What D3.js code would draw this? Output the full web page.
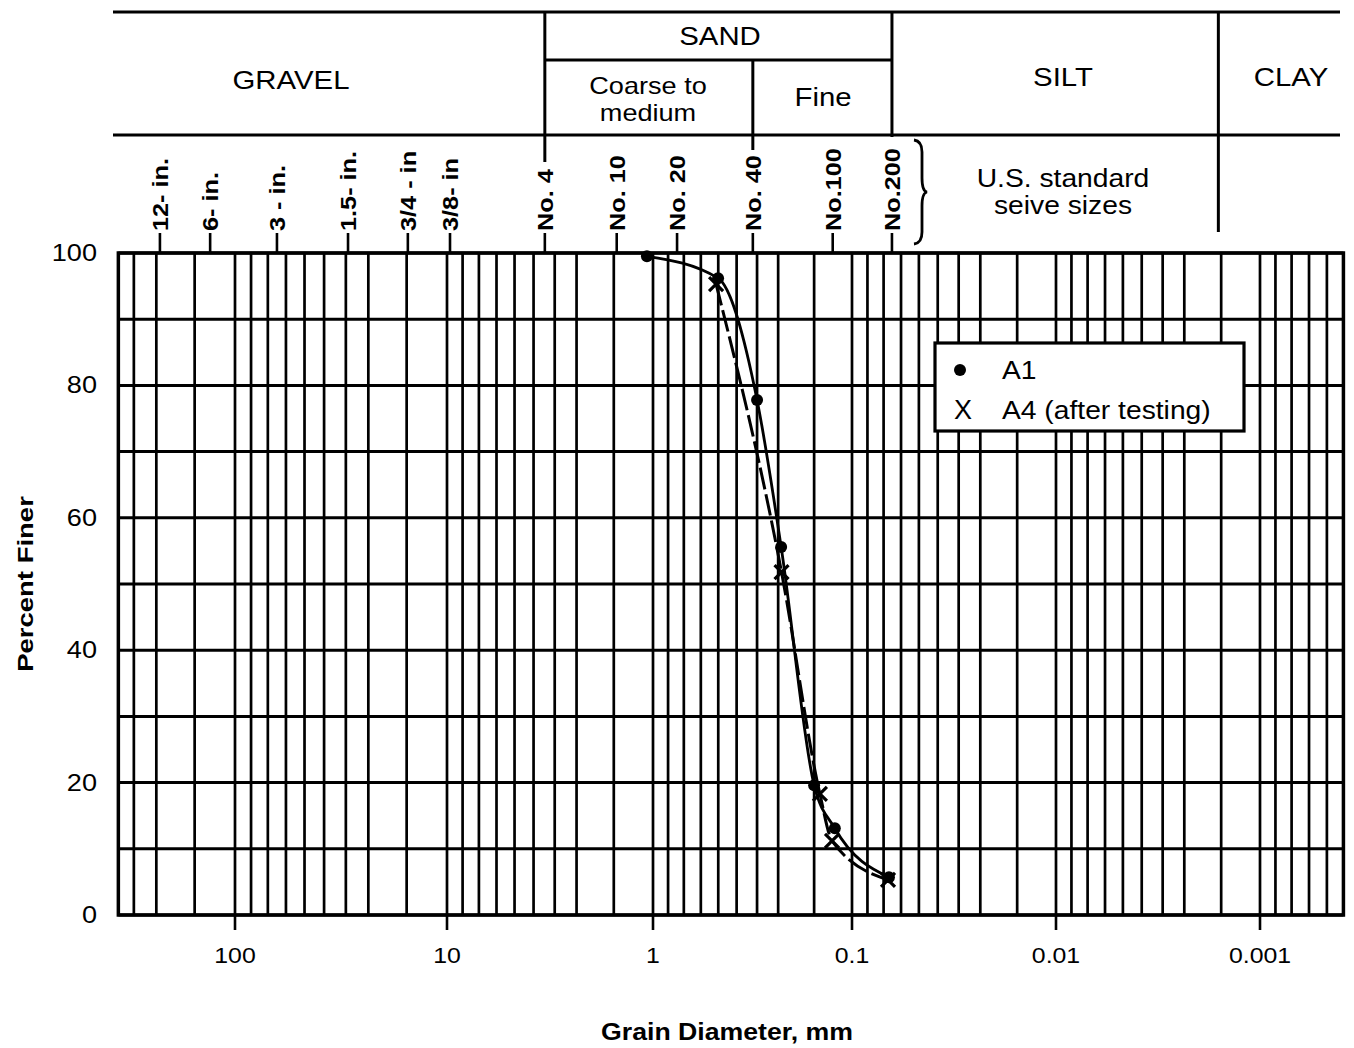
<!DOCTYPE html>
<html>
<head>
<meta charset="utf-8">
<script src="https://cdn.jsdelivr.net/npm/d3@7"></script>
<style>
  body { margin: 0; background: #fff; }
  text { font-family: "Liberation Sans", Arial, Helvetica, sans-serif; fill: #000; }
</style>
</head>
<body>
<svg id="chart" width="1354" height="1048"></svg>
<script>
// ---- data -------------------------------------------------------------
// Decade ticks on the grain-diameter axis (mm) and their labels
const decadeTicks = [100, 10, 1, 0.1, 0.01, 0.001];
const decadeLabels = ["100", "10", "1", "0.1", "0.01", "0.001"];
// Rulings of the chart paper inside each decade (multiples of the lower decade value)
const gridMantissas = [8.4, 7.0, 5.75, 4.7, 3.8, 3.0, 2.35, 1.55];
// Percent-finer axis
const percentTicks = [0, 20, 40, 60, 80, 100];
const percentGrid = [0, 10, 20, 30, 40, 50, 60, 70, 80, 90, 100];
// Sieve designations across the top and where they sit on the diameter axis (mm)
const sieveNames = ["12- in.", "6- in.", "3 - in.", "1.5- in.", "3/4 - in", "3/8- in",
                    "No. 4", "No. 10", "No. 20", "No. 40", "No.100", "No.200"];
const sieveSizes = [226, 131, 63.4, 29.3, 15.3, 9.67, 3.35, 1.50, 0.757, 0.315, 0.125, 0.0637];
// Soil-class boundaries (mm): gravel|sand, coarse|fine sand, sand|silt, silt|clay
const classBounds = [3.35, 0.315, 0.0637, 0.0016];
// Sample A1
const a1Size = [1.07, 0.471, 0.300, 0.227, 0.155, 0.122, 0.0659];
const a1Finer = [99.5, 96.2, 77.8, 55.6, 19.6, 13.1, 5.7];
// Sample A4 (after testing)
const a4Size = [0.482, 0.226, 0.145, 0.126, 0.0666];
const a4Finer = [95.3, 51.8, 18.3, 11.2, 5.3];

// ---- scales -----------------------------------------------------------
const xMaxMM = 355, xMinMM = 0.00039;
const x = d3.scaleLog().domain(decadeTicks).range([235, 447, 653, 852, 1056, 1260]);
const y = d3.scaleLinear().domain([0, 100]).range([915, 253]);
const pLeft = x(xMaxMM), pRight = x(xMinMM), pTop = y(100), pBottom = y(0);

// The printed lettering is a little wider than the stock face
const STRETCH = 1.13;

const svg = d3.select("#chart");
svg.append("rect").attr("width", 1354).attr("height", 1048).attr("fill", "#fff");

// ---- grid -------------------------------------------------------------
const gridVals = [];
for (let e = 3; e >= -4; e--) {
  const dec = Math.pow(10, e);
  gridVals.push(dec);
  gridMantissas.forEach(m => gridVals.push(m * dec / 10));
}
const vGrid = gridVals.filter(v => v < xMaxMM && v > xMinMM);

const grid = svg.append("g").attr("stroke", "#000").attr("fill", "none");
grid.selectAll("line.v").data(vGrid).join("line").attr("class", "v")
  .attr("x1", d => x(d)).attr("x2", d => x(d))
  .attr("y1", pTop).attr("y2", pBottom)
  .attr("stroke-width", 2.7);
grid.selectAll("line.h").data(percentGrid).join("line").attr("class", "h")
  .attr("x1", pLeft).attr("x2", pRight)
  .attr("y1", d => y(d)).attr("y2", d => y(d))
  .attr("stroke-width", 3);
grid.append("rect").attr("x", pLeft).attr("y", pTop)
  .attr("width", pRight - pLeft).attr("height", pBottom - pTop)
  .attr("stroke-width", 3.5);

// decade ticks and labels on the bottom axis
const xAxis = svg.append("g");
xAxis.selectAll("line").data(decadeTicks).join("line")
  .attr("x1", d => x(d)).attr("x2", d => x(d))
  .attr("y1", pBottom).attr("y2", pBottom + 15)
  .attr("stroke", "#000").attr("stroke-width", 2.6);
xAxis.selectAll("text").data(decadeTicks).join("text")
  .attr("transform", d => `translate(${x(d)},${pBottom + 48}) scale(${STRETCH},1)`)
  .attr("text-anchor", "middle").attr("font-size", 22)
  .text((d, i) => decadeLabels[i]);

// percent labels
svg.append("g").selectAll("text").data(percentTicks).join("text")
  .attr("transform", d => `translate(97,${y(d) + 8}) scale(${STRETCH},1)`)
  .attr("text-anchor", "end").attr("font-size", 24)
  .text(d => d);

// axis titles
svg.append("text")
  .attr("transform", `translate(33,${(pTop + pBottom) / 2}) rotate(-90) scale(1.25,1)`)
  .attr("text-anchor", "middle").attr("font-size", 22).attr("font-weight", "bold")
  .text("Percent Finer");
svg.append("text")
  .attr("transform", `translate(727,1040) scale(1.16,1)`)
  .attr("text-anchor", "middle").attr("font-size", 23).attr("font-weight", "bold")
  .text("Grain Diameter, mm");

// ---- classification header -------------------------------------------
const hdr = svg.append("g").attr("stroke", "#000").attr("stroke-width", 3);
const [bGS, bCF, bSS, bSC] = classBounds.map(x);
const hLines = [
  [113, 12, 1340, 12],
  [113, 135, 1340, 135],
  [bGS, 60, bSS, 60],
  [bGS, 12, bGS, 162],
  [bCF, 60, bCF, 150],
  [bSS, 12, bSS, 137],
  [bSC, 12, bSC, 232]
];
hdr.selectAll("line").data(hLines).join("line")
  .attr("x1", d => d[0]).attr("y1", d => d[1]).attr("x2", d => d[2]).attr("y2", d => d[3]);
// brace grouping the sieve numbers
hdr.append("path").attr("fill", "none").attr("stroke-width", 2.8)
  .attr("d", "M914,140 q8,1 8,12 v26 q0,13 5,14 q-5,1 -5,14 v26 q0,11 -8,12");

const hdrText = [
  ["GRAVEL", 291, 80, 26], ["SAND", 720, 36, 26], ["Coarse to", 648, 86, 24], ["medium", 648, 113, 24],
  ["Fine", 823, 97, 26], ["SILT", 1063, 77, 26], ["CLAY", 1291, 77, 26],
  ["U.S. standard", 1063, 178, 25], ["seive sizes", 1063, 205, 25]
];
svg.append("g").selectAll("text").data(hdrText).join("text")
  .attr("transform", d => `translate(${d[1]},${d[2] + d[3] * 0.35}) scale(${STRETCH},1)`)
  .attr("text-anchor", "middle").attr("font-size", d => d[3])
  .text(d => d[0]);

// sieve ticks and rotated labels
const sieves = svg.append("g");
sieves.selectAll("line").data(sieveSizes).join("line")
  .attr("x1", d => x(d)).attr("x2", d => x(d))
  .attr("y1", 233).attr("y2", pTop)
  .attr("stroke", "#000").attr("stroke-width", 2.6);
sieves.selectAll("text").data(sieveSizes).join("text")
  .attr("transform", d => `translate(${x(d)},231) rotate(-90) scale(1.15,1)`)
  .attr("dy", "0.36em").attr("font-size", 22).attr("font-weight", "bold")
  .text((d, i) => sieveNames[i]);

// ---- gradation curves -------------------------------------------------
const a1 = a1Size.map((s, i) => [s, a1Finer[i]]);
const a4 = a4Size.map((s, i) => [s, a4Finer[i]]);
const line = d3.line().x(d => x(d[0])).y(d => y(d[1])).curve(d3.curveMonotoneX);

svg.append("path").datum(a1).attr("d", line)
  .attr("fill", "none").attr("stroke", "#000").attr("stroke-width", 2.8);
svg.append("path").datum(a4).attr("d", line)
  .attr("fill", "none").attr("stroke", "#000").attr("stroke-width", 3)
  .attr("stroke-dasharray", "22,5");

svg.append("g").selectAll("circle").data(a1).join("circle")
  .attr("cx", d => x(d[0])).attr("cy", d => y(d[1])).attr("r", 6).attr("fill", "#000");
const xMark = "M-7,-7L7,7M-7,7L7,-7";
svg.append("g").selectAll("path").data(a4).join("path")
  .attr("transform", d => `translate(${x(d[0])},${y(d[1])})`)
  .attr("d", xMark).attr("stroke", "#000").attr("stroke-width", 3.2).attr("fill", "none");

// ---- legend -----------------------------------------------------------
const lg = svg.append("g");
lg.append("rect").attr("x", 935).attr("y", 343).attr("width", 309).attr("height", 88)
  .attr("fill", "#fff").attr("stroke", "#000").attr("stroke-width", 3.2);
lg.append("circle").attr("cx", 960).attr("cy", 370).attr("r", 6).attr("fill", "#000");
lg.append("text").attr("x", 963).attr("y", 419).attr("text-anchor", "middle")
  .attr("font-size", 27).text("X");
lg.append("text").attr("transform", `translate(1002,379) scale(${STRETCH},1)`)
  .attr("font-size", 25).text("A1");
lg.append("text").attr("transform", `translate(1002,419) scale(${STRETCH},1)`)
  .attr("font-size", 25).text("A4 (after testing)");
</script>
</body>
</html>
